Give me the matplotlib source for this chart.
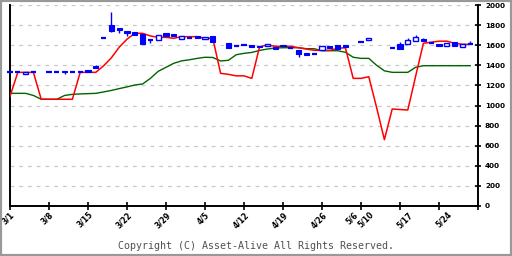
import numpy as np
import matplotlib.pyplot as plt
from matplotlib.patches import Rectangle

# trading day labels (index into the trading-day axis)
label_idx = [0, 5, 10, 15, 20, 25, 30, 35, 40, 44, 46, 51, 56]
labels = ['3/1', '3/8', '3/15', '3/22', '3/29', '4/5', '4/12', '4/19',
          '4/26', '5/6', '5/10', '5/17', '5/24']

nan = np.nan
# candles: open, high, low, close (nan = no trade)
opens = [1330, 1330, 1310, 1330, nan, 1330, 1330, 1340, 1330, 1330,
         1350, 1390, 1670, 1800, 1770, 1740, 1728, 1708, 1650, 1650,
         1721, 1711, 1665, 1669, 1688, 1661, 1691, nan, 1625, 1589,
         1599, 1602, 1592, 1589, 1580, 1605, 1575, 1555, 1522, 1509,
         1552, 1595, 1602, 1602, nan, 1629, 1649, nan, nan, 1569,
         1609, 1609, 1645, 1657, 1622, 1612, 1589, 1629, 1579, 1609]
highs = [1330, 1330, 1330, 1330, nan, 1330, 1330, 1340, 1330, 1330,
         1350, 1403, 1670, 1930, 1770, 1740, 1728, 1708, 1650, 1700,
         1721, 1711, 1688, 1669, 1688, 1685, 1691, nan, 1625, 1589,
         1599, 1602, 1592, 1612, 1580, 1605, 1575, 1555, 1522, 1509,
         1592, 1595, 1602, 1602, nan, 1629, 1669, nan, nan, 1569,
         1632, 1669, 1701, 1669, 1622, 1612, 1625, 1629, 1615, 1642]
lows = [1330, 1330, 1310, 1330, nan, 1330, 1330, 1310, 1330, 1330,
        1330, 1370, 1670, 1730, 1725, 1690, 1700, 1615, 1625, 1650,
        1691, 1694, 1665, 1669, 1675, 1661, 1635, nan, 1575, 1589,
        1599, 1582, 1580, 1589, 1565, 1589, 1575, 1486, 1502, 1509,
        1552, 1575, 1562, 1582, nan, 1629, 1649, nan, nan, 1569,
        1565, 1609, 1645, 1641, 1622, 1595, 1589, 1589, 1579, 1609]
closes = [1330, 1330, 1330, 1330, nan, 1330, 1330, 1330, 1330, 1330,
          1330, 1370, 1670, 1740, 1750, 1725, 1700, 1615, 1650, 1700,
          1691, 1694, 1688, 1669, 1675, 1685, 1635, nan, 1575, 1589,
          1599, 1582, 1580, 1612, 1565, 1589, 1575, 1509, 1502, 1509,
          1592, 1575, 1562, 1582, nan, 1629, 1669, nan, nan, 1569,
          1565, 1649, 1682, 1641, 1622, 1595, 1625, 1589, 1615, 1609]

# red line
red = [1090, 1330, 1330, 1330, 1062, 1062, 1062, 1062, 1062, 1330,
       1330, 1330, 1395, 1475, 1580, 1660, 1718, 1718, 1692, 1678,
       1678, 1669, 1685, 1685, 1685, 1669, 1669, 1320, 1310, 1295,
       1295, 1270, 1585, 1602, 1589, 1589, 1589, 1575, 1562, 1549,
       1549, 1549, 1569, 1575, 1270, 1270, 1286, 980, 660, 965,
       960, 955, 1290, 1619, 1630, 1640, 1640, 1619, 1609, 1609]

# green line (moving average)
green = [1121, 1121, 1121, 1100, 1062, 1062, 1062, 1100, 1111, 1115,
         1118, 1121, 1135, 1150, 1168, 1185, 1204, 1214, 1270, 1340,
         1380, 1420, 1444, 1455, 1469, 1480, 1478, 1443, 1450, 1505,
         1519, 1528, 1548, 1562, 1572, 1575, 1575, 1575, 1565, 1565,
         1545, 1545, 1545, 1530, 1480, 1469, 1469, 1400, 1345, 1330,
         1330, 1330, 1380, 1396, 1396, 1396, 1396, 1396, 1396, 1396]

blue = '#0000FF'
w = 0.65

fig = plt.figure(figsize=(5.12, 2.56), dpi=100)
ax = fig.add_axes([10/512, 50/256, 468/512, 201/256])
ax.set_xlim(0, 60)
ax.set_ylim(0, 2000)

x = np.arange(len(red))
ax.plot(x, green, color='#006400', lw=1.0, zorder=3)
ax.plot(x, red, color='#FF0000', lw=1.1, zorder=4)

# candlesticks
for i in range(len(opens)):
    o, h, l, c = opens[i], highs[i], lows[i], closes[i]
    if np.isnan(o):
        continue
    if h > l:
        ax.vlines(i, l, h, color=blue, lw=1, zorder=5, clip_on=False)
    if abs(c - o) < 8:
        ax.hlines(o, i - w/2, i + w/2, color=blue, lw=1.6, zorder=6, clip_on=False)
    elif c < o:
        ax.add_patch(Rectangle((i - w/2, c), w, o - c, facecolor=blue,
                               edgecolor=blue, lw=0.8, zorder=6, clip_on=False))
    else:
        ax.add_patch(Rectangle((i - w/2, o), w, c - o, facecolor='white',
                               edgecolor=blue, lw=1.0, zorder=6, clip_on=False))

# axes styling
ax.spines['top'].set_visible(False)
for s in ['left', 'bottom', 'right']:
    ax.spines[s].set_linewidth(1.4)
    ax.spines[s].set_color('black')

ax.yaxis.tick_right()
ax.set_yticks(range(0, 2001, 200))
ax.tick_params(axis='y', direction='inout', length=5, width=1.2, pad=2.5,
               labelsize=5.2)
plt.setp(ax.get_yticklabels(), fontweight='bold')
ax.yaxis.grid(True, color='#C8C8C8', linestyle=(0, (3, 4)), lw=0.9)
ax.set_axisbelow(True)

# ticks every 5 trading days, labels at week starts
ax.xaxis.remove_overlapping_locs = False
ax.set_xticks(range(0, 61, 5))
ax.set_xticklabels([])
ax.tick_params(axis='x', which='major', direction='inout', length=6, width=1.2)
ax.set_xticks(label_idx, labels, minor=True)
ax.tick_params(axis='x', which='minor', length=0, pad=3, labelsize=5.5)
plt.setp(ax.get_xticklabels(minor=True), rotation=45, ha='right',
         va='top', rotation_mode='anchor', fontweight='bold')

fig.text(0.5, 10/256, 'Copyright (C) Asset-Alive All Rights Reserved.',
         ha='center', va='center', family='DejaVu Sans Mono', fontsize=7.2,
         color='#505050')

# gray frame around the image
fig.patches.append(Rectangle((0, 0), 1, 1, transform=fig.transFigure,
                             fill=False, edgecolor='#999999', lw=3))

fig.savefig('out.png', dpi=100)
